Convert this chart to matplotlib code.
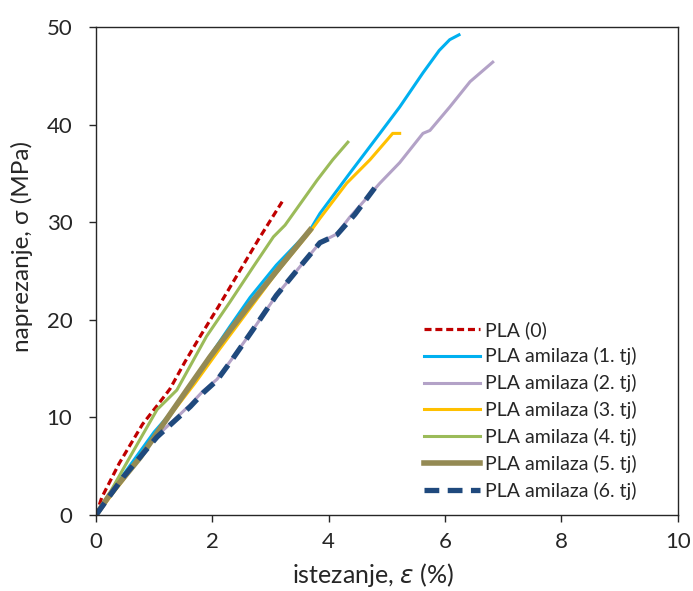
import matplotlib.pyplot as plt

plt.rcParams['font.family'] = ['Lato', 'DejaVu Sans']

# strain (%) and stress (MPa)
pla0_x = [0, 0.1, 0.4, 0.8, 1.05, 1.27, 1.53, 1.79, 2.1, 2.47, 2.8, 3.2]
pla0_y = [0, 1.8, 5.3, 9.3, 11.2, 12.9, 15.7, 18.3, 21.3, 25.0, 28.3, 32.1]

tj1_x = [0, 0.24, 0.6, 1.0, 1.22, 1.6, 1.96, 2.3, 2.65, 3.1, 3.68, 3.85, 4.36, 4.88, 5.22, 5.62, 5.9, 6.08, 6.24]
tj1_y = [0, 2.2, 5.2, 8.5, 10.0, 13.1, 16.3, 19.3, 22.3, 25.6, 29.2, 30.9, 35.0, 39.1, 41.8, 45.3, 47.6, 48.7, 49.2]

tj2_x = [0, 0.47, 1.05, 1.62, 1.84, 2.08, 2.35, 2.7, 3.1, 3.5, 3.85, 4.14, 4.36, 4.88, 5.22, 5.62, 5.74, 6.08, 6.43, 6.82]
tj2_y = [0, 3.9, 8.1, 11.3, 12.7, 13.9, 16.1, 19.0, 22.5, 25.4, 27.9, 28.8, 30.5, 34.0, 36.1, 39.1, 39.4, 41.8, 44.4, 46.4]

tj3_x = [0, 0.47, 0.9, 1.3, 1.7, 2.1, 2.6, 3.1, 3.68, 3.85, 4.31, 4.71, 5.0, 5.1, 5.22]
tj3_y = [0, 3.6, 7.1, 10.4, 13.5, 16.8, 20.8, 24.8, 29.0, 30.4, 34.0, 36.4, 38.4, 39.1, 39.1]

tj4_x = [0, 0.24, 0.58, 1.05, 1.39, 1.9, 2.3, 2.7, 3.05, 3.25, 3.8, 4.07, 4.33]
tj4_y = [0, 2.3, 5.9, 10.8, 12.8, 18.3, 21.8, 25.4, 28.5, 29.7, 34.3, 36.4, 38.2]

tj5_x = [0, 0.24, 0.76, 1.2, 1.56, 1.96, 2.3, 2.7, 3.2, 3.68]
tj5_y = [0, 2.1, 5.9, 9.7, 12.8, 16.2, 18.9, 22.0, 25.7, 29.2]

tj6_x = [0, 0.47, 1.05, 1.62, 1.84, 2.08, 2.35, 2.7, 3.1, 3.5, 3.85, 4.14, 4.45, 4.79]
tj6_y = [0, 3.9, 8.0, 11.1, 12.5, 13.8, 16.0, 19.0, 22.5, 25.4, 27.9, 28.7, 30.8, 33.5]

text_color = '#262626'

fig = plt.figure(figsize=(6.93, 5.91), dpi=100)
ax = fig.add_axes([0.1385, 0.1286, 0.8395, 0.8257])

ax.plot(pla0_x, pla0_y, color='#C00000', lw=2.3, ls=(0, (2.2, 1.2)), label='PLA (0)')
ax.plot(tj1_x, tj1_y, color='#00B0F0', lw=2.2, label='PLA amilaza (1. tj)')
ax.plot(tj2_x, tj2_y, color='#B3A2C7', lw=2.2, label='PLA amilaza (2. tj)')
ax.plot(tj3_x, tj3_y, color='#FFC000', lw=2.2, label='PLA amilaza (3. tj)')
ax.plot(tj4_x, tj4_y, color='#9BBB59', lw=2.2, label='PLA amilaza (4. tj)')
ax.plot(tj5_x, tj5_y, color='#948A54', lw=4, label='PLA amilaza (5. tj)')
ax.plot(tj6_x, tj6_y, color='#1F497D', lw=3.8, ls=(0, (2.8, 1.6)), label='PLA amilaza (6. tj)')

ax.set_xlim(0, 10)
ax.set_ylim(0, 50)
ax.set_xticks([0, 2, 4, 6, 8, 10])
ax.set_yticks([0, 10, 20, 30, 40, 50])
ax.tick_params(direction='out', length=5, width=1, labelsize=16, colors=text_color)
ax.tick_params(axis='x', pad=7)
ax.tick_params(axis='y', pad=12)
for s in ax.spines.values():
    s.set_color('#262626')
    s.set_linewidth(1)

ax.set_xlabel('istezanje, $\\varepsilon$ (%)', fontsize=18, color=text_color)
ax.set_ylabel('naprezanje, σ (MPa)', fontsize=17.5, color=text_color)
ax.xaxis.set_label_coords(0.476, -0.094)
ax.yaxis.set_label_coords(-0.108, 0.55)

ax.legend(loc='upper left', bbox_to_anchor=(0.5636, 0.398), frameon=False, fontsize=14,
          borderpad=0, borderaxespad=0, handlelength=2.9, labelspacing=0.45,
          handletextpad=0.25, labelcolor=text_color)

fig.savefig('out.png', dpi=100)
